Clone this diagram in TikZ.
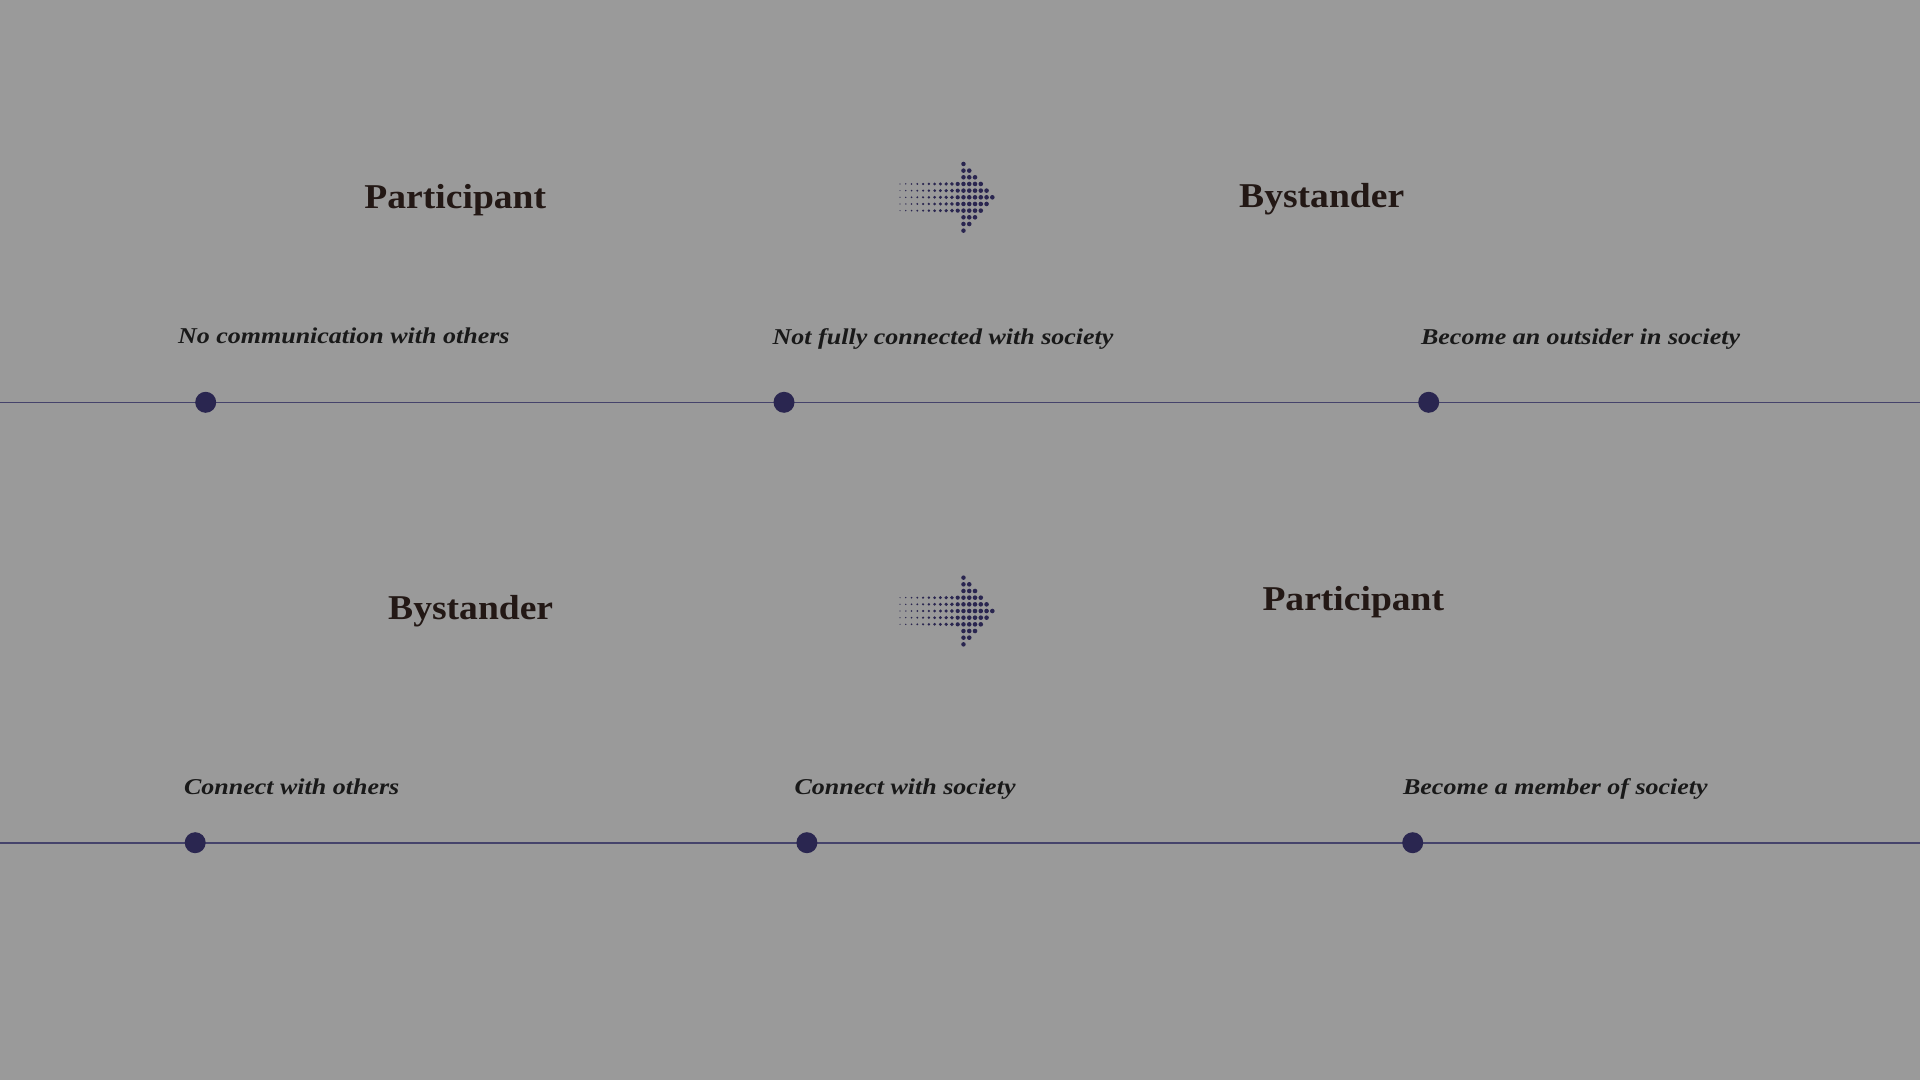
\documentclass[tikz,border=0pt]{standalone}
\usepackage{fontspec}
\usepackage{tikz}
\newfontfamily\titlefont[FakeStretch=1.08]{Liberation Serif}
\newfontfamily\labelfont[FakeStretch=1.15]{Liberation Serif}
\definecolor{paper}{HTML}{9A9A9A}
\definecolor{ink}{HTML}{231815}
\definecolor{navy}{HTML}{2A2650}
\definecolor{rail}{HTML}{45436B}
\tikzset{
	title/.style={inner sep=0pt, anchor=base, text=ink, font=\titlefont\bfseries\fontsize{17.4pt}{20pt}\selectfont},
	phase/.style={inner sep=0pt, anchor=base west, text=black!90, font=\labelfont\bfseries\itshape\fontsize{11.3pt}{13pt}\selectfont},
	stop/.style={circle, fill=navy, inner sep=0pt, minimum size=10.5pt},
	railline/.style={draw=rail, line width=0.8pt}
}
\newcommand{\dotarrow}[2]{%
	\foreach \i in {0,...,16}{%
		\pgfmathtruncatemacro\m{\i<11 ? 2 : 16-\i}
		\pgfmathsetmacro\r{min(0.6+0.15*\i,2.3)}
		\foreach \j in {-\m,...,\m}
			\fill[navy] (#1+\i*5.77, #2+\j*6.67) circle[radius=\r*0.5pt];
	}%
}
\begin{document}
\begin{tikzpicture}[x=0.5pt, y=-0.5pt]
	\fill[paper] (0,0) rectangle (1920,1080);
	\useasboundingbox (0,0) rectangle (1920,1080);
	% upper row
	\node[title] (P1) at (455.3,208.3) {Participant};
	\node[title] (B1) at (1321.7,207.7) {Bystander};
	\dotarrow{900}{197.3}
	\coordinate (w1) at (0,402.3);
	\coordinate (e1) at (1920,402.3);
	\draw [railline] (w1) -- (e1);
	\node[stop] (s11) at (205.7,402.3) {};
	\node[stop] (s12) at (784,402.3) {};
	\node[stop] (s13) at (1428.7,402.3) {};
	\node[phase] (t11) at (177.7,343.3) {No communication with others};
	\node[phase] (t12) at (772.3,344.3) {Not fully connected with society};
	\node[phase] (t13) at (1420.7,344.3) {Become an outsider in society};
	% lower row
	\node[title] (B2) at (470.7,619.3) {Bystander};
	\node[title] (P2) at (1353.3,610) {Participant};
	\dotarrow{900}{611}
	\coordinate (w2) at (0,842.7);
	\coordinate (e2) at (1920,842.7);
	\draw [railline] (w2) -- (e2);
	\node[stop] (s21) at (195.2,842.7) {};
	\node[stop] (s22) at (806.9,842.7) {};
	\node[stop] (s23) at (1412.7,842.7) {};
	\node[phase] (t21) at (183.7,794.3) {Connect with others};
	\node[phase] (t22) at (794.2,794.3) {Connect with society};
	\node[phase] (t23) at (1402.7,794.3) {Become a member of society};
\end{tikzpicture}
\end{document}
